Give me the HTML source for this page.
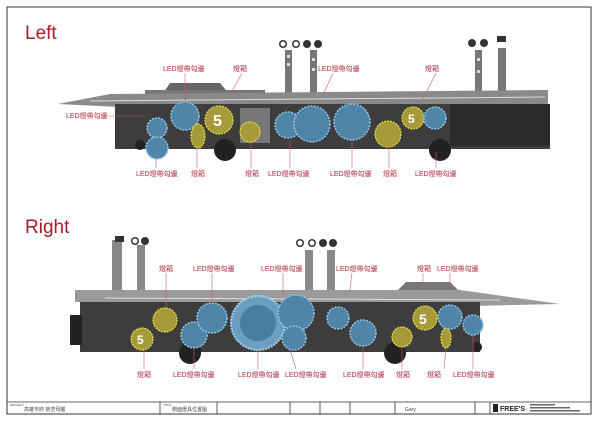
<!DOCTYPE html>
<html><head><meta charset="utf-8"><style>
body{margin:0;background:#fff;width:600px;height:425px;overflow:hidden}
svg{display:block}
.l{font-family:"Liberation Sans","Noto Sans CJK TC",sans-serif;font-size:7px;fill:#b02a3c}
.t{font-family:"Liberation Sans",sans-serif;fill:#a51c2a;font-size:19px}
.s{font-family:"Liberation Sans","Noto Sans CJK TC",sans-serif;font-size:5px;fill:#444}
.ln{stroke:#c86070;stroke-width:0.6}
.g{fill:#4f86a8;stroke:#8fc6e6;stroke-width:1.5;stroke-dasharray:2 1.2}
.y{fill:#a79a3a;stroke:#e7e040;stroke-width:1.2;stroke-dasharray:2 1}
</style></head><body>
<svg width="600" height="425" viewBox="0 0 600 425">
<rect x="7" y="7" width="584" height="407" fill="#fff" stroke="#333" stroke-width="1"/>
<text class="t" x="25" y="39">Left</text>
<text class="t" x="25" y="233">Right</text>

<!-- TOP MACHINE -->
<g>
<!-- towers -->
<g fill="#777"><rect x="285" y="50" width="7" height="45"/><rect x="310" y="50" width="7" height="45"/><rect x="475" y="50" width="7" height="45"/><rect x="498" y="48" width="8" height="47"/></g>
<g fill="#ddd"><rect x="287" y="55" width="3" height="3"/><rect x="287" y="63" width="3" height="3"/><rect x="312" y="58" width="3" height="3"/><rect x="312" y="68" width="3" height="3"/><rect x="477" y="58" width="3" height="3"/><rect x="477" y="70" width="3" height="3"/></g>
<g fill="#333"><circle cx="283" cy="44" r="4"/><circle cx="296" cy="44" r="4"/><circle cx="307" cy="44" r="4"/><circle cx="318" cy="44" r="4"/><circle cx="472" cy="43" r="4"/><circle cx="484" cy="43" r="4"/><rect x="497" y="36" width="9" height="6"/></g>
<g fill="#fff"><circle cx="283" cy="44" r="2.5"/><circle cx="296" cy="44" r="2.5"/></g>
<!-- cabin -->
<polygon points="162,95 170,83 220,83 230,95" fill="#666"/>
<rect x="145" y="90" width="120" height="6" fill="#777"/>
<!-- deck -->
<polygon points="58,104 110,94 548,90 548,104 120,107" fill="#8a8a8a"/>
<line x1="90" y1="101" x2="545" y2="97" stroke="#ddd" stroke-width="1"/>
<!-- body -->
<rect x="115" y="104" width="435" height="45" fill="#3d3d3d"/>
<rect x="450" y="104" width="100" height="42" fill="#2a2a2a"/>
<rect x="240" y="108" width="30" height="35" fill="#777"/>
<circle cx="225" cy="150" r="11" fill="#222"/><circle cx="440" cy="150" r="11" fill="#222"/>
<circle cx="140" cy="145" r="5" fill="#222"/>
<circle class="g" cx="157" cy="128" r="10"/><circle class="g" cx="157" cy="148" r="11"/>
<circle class="g" cx="185" cy="116" r="14"/>
<circle class="y" cx="219" cy="120" r="14"/><text x="213" y="126" font-family="Liberation Sans" font-size="16" font-weight="bold" fill="#fff">5</text>
<ellipse class="y" cx="198" cy="136" rx="7" ry="12"/>
<circle class="y" cx="250" cy="132" r="10"/>
<circle class="g" cx="288" cy="125" r="13"/><circle class="g" cx="312" cy="124" r="18"/>
<circle class="g" cx="352" cy="122" r="18"/>
<circle class="y" cx="388" cy="134" r="13"/>
<circle class="y" cx="413" cy="118" r="11"/><text x="408" y="123" font-family="Liberation Sans" font-size="12" font-weight="bold" fill="#fff">5</text>
<circle class="g" cx="435" cy="118" r="11"/>
</g>
<!-- top labels -->
<g class="l">
<text x="163" y="71">LED燈帶勾邊</text><text x="233" y="71">燈箱</text><text x="318" y="71">LED燈帶勾邊</text><text x="425" y="71">燈箱</text>
<text x="66" y="118">LED燈帶勾邊</text>
<text x="136" y="176">LED燈帶勾邊</text><text x="191" y="176">燈箱</text><text x="245" y="176">燈箱</text><text x="268" y="176">LED燈帶勾邊</text><text x="330" y="176">LED燈帶勾邊</text><text x="383" y="176">燈箱</text><text x="415" y="176">LED燈帶勾邊</text>
</g>
<g class="ln">
<line x1="185" y1="73" x2="185" y2="102"/><line x1="242" y1="73" x2="230" y2="95"/><line x1="333" y1="73" x2="323" y2="95"/><line x1="436" y1="73" x2="420" y2="105"/>
<line x1="108" y1="116" x2="145" y2="116"/>
<line x1="156" y1="168" x2="156" y2="158"/><line x1="197" y1="168" x2="197" y2="148"/><line x1="251" y1="168" x2="251" y2="142"/><line x1="290" y1="168" x2="290" y2="140"/><line x1="352" y1="168" x2="352" y2="140"/><line x1="389" y1="168" x2="389" y2="147"/><line x1="436" y1="168" x2="436" y2="152"/>
</g>

<!-- BOTTOM MACHINE -->
<g>
<g fill="#888"><rect x="112" y="240" width="10" height="50"/><rect x="137" y="245" width="8" height="45"/><rect x="305" y="250" width="8" height="40"/><rect x="327" y="250" width="8" height="40"/></g>
<g fill="#333"><rect x="115" y="236" width="9" height="6"/><circle cx="135" cy="241" r="4"/><circle cx="145" cy="241" r="4"/><circle cx="300" cy="243" r="4"/><circle cx="312" cy="243" r="4"/><circle cx="323" cy="243" r="4"/><circle cx="333" cy="243" r="4"/></g>
<g fill="#fff"><circle cx="300" cy="243" r="2.5"/><circle cx="312" cy="243" r="2.5"/><circle cx="135" cy="241" r="2.5"/></g>
<polygon points="398,290 406,282 450,282 458,290" fill="#777"/>
<polygon points="75,290 460,290 560,304 470,306 75,302" fill="#9a9a9a"/>
<line x1="105" y1="298" x2="500" y2="300" stroke="#ddd" stroke-width="1"/>
<rect x="80" y="302" width="400" height="50" fill="#3d3d3d"/>
<rect x="70" y="315" width="12" height="30" fill="#222"/>
<circle cx="190" cy="353" r="11" fill="#222"/><circle cx="395" cy="353" r="11" fill="#222"/>
<circle cx="477" cy="347" r="5" fill="#222"/>
<circle class="y" cx="142" cy="339" r="11"/><text x="137" y="344" font-family="Liberation Sans" font-size="12" font-weight="bold" fill="#fff">5</text>
<circle class="y" cx="165" cy="320" r="12"/>
<circle class="g" cx="194" cy="335" r="13"/><circle class="g" cx="212" cy="318" r="15"/>
<circle cx="258" cy="323" r="27" fill="#6c9fbf" stroke="#a6d4ee" stroke-width="2" stroke-dasharray="2 1"/>
<circle cx="258" cy="323" r="18" fill="#4a7e9e"/>
<circle class="g" cx="296" cy="313" r="18"/><circle class="g" cx="294" cy="338" r="12"/>
<circle class="g" cx="338" cy="318" r="11"/><circle class="g" cx="363" cy="333" r="13"/>
<circle class="y" cx="402" cy="337" r="10"/>
<circle class="y" cx="425" cy="318" r="12"/><text x="419" y="324" font-family="Liberation Sans" font-size="14" font-weight="bold" fill="#fff">5</text>
<ellipse class="y" cx="446" cy="338" rx="5" ry="10"/>
<circle class="g" cx="450" cy="317" r="12"/><circle class="g" cx="473" cy="325" r="10"/>
</g>
<g class="l">
<text x="159" y="271">燈箱</text><text x="193" y="271">LED燈帶勾邊</text><text x="261" y="271">LED燈帶勾邊</text><text x="336" y="271">LED燈帶勾邊</text><text x="417" y="271">燈箱</text><text x="437" y="271">LED燈帶勾邊</text>
<text x="137" y="377">燈箱</text><text x="173" y="377">LED燈帶勾邊</text><text x="238" y="377">LED燈帶勾邊</text><text x="285" y="377">LED燈帶勾邊</text><text x="343" y="377">LED燈帶勾邊</text><text x="396" y="377">燈箱</text><text x="427" y="377">燈箱</text><text x="453" y="377">LED燈帶勾邊</text>
</g>
<g class="ln">
<line x1="166" y1="273" x2="166" y2="308"/><line x1="212" y1="273" x2="212" y2="303"/><line x1="283" y1="273" x2="283" y2="295"/><line x1="352" y1="273" x2="350" y2="290"/><line x1="423" y1="273" x2="423" y2="285"/><line x1="450" y1="273" x2="450" y2="285"/>
<line x1="144" y1="369" x2="144" y2="350"/><line x1="194" y1="369" x2="194" y2="348"/><line x1="258" y1="369" x2="258" y2="350"/><line x1="296" y1="369" x2="290" y2="350"/><line x1="363" y1="369" x2="363" y2="346"/><line x1="402" y1="369" x2="402" y2="347"/><line x1="444" y1="369" x2="446" y2="348"/><line x1="473" y1="369" x2="473" y2="335"/>
</g>

<!-- title block -->
<g stroke="#333" stroke-width="0.8" fill="none">
<line x1="7" y1="402" x2="591" y2="402"/>
<line x1="160" y1="402" x2="160" y2="414"/><line x1="217" y1="402" x2="217" y2="414"/><line x1="290" y1="402" x2="290" y2="414"/><line x1="320" y1="402" x2="320" y2="414"/><line x1="350" y1="402" x2="350" y2="414"/><line x1="395" y1="402" x2="395" y2="414"/><line x1="475" y1="402" x2="475" y2="414"/><line x1="490" y1="402" x2="490" y2="414"/>
</g>
<g class="s"><text x="10" y="406" font-size="3">PROJECT</text><text x="24" y="411">高雄市府 航空母艦</text><text x="163" y="406" font-size="3">TITLE</text><text x="172" y="411">側面燈具位置圖</text><text x="405" y="411">Gary</text></g>
<rect x="493" y="404" width="5" height="8" fill="#222"/>
<text x="500" y="411" font-family="Liberation Sans" font-size="7" font-weight="bold" fill="#222">FREE'S</text>
<g fill="#666"><rect x="530" y="404" width="25" height="1.5"/><rect x="530" y="407" width="40" height="1.5"/><rect x="530" y="410" width="50" height="1.5"/></g>
</svg>
</body></html>
